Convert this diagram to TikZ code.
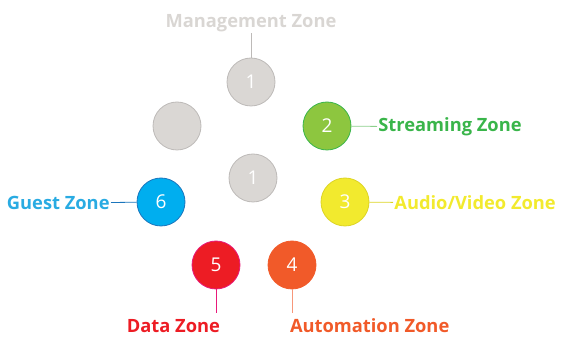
\documentclass[tikz,border=0pt]{standalone}
\usepackage{fontspec}
\setmainfont{Open Sans}
\usetikzlibrary{positioning}

\definecolor{zgray}{HTML}{DAD7D4}
\definecolor{zgrayline}{HTML}{BDBAB8}
\definecolor{zgraytext}{HTML}{D9D6D3}
\definecolor{zgreen}{HTML}{8DC63F}
\definecolor{zgreendark}{HTML}{39B54A}
\definecolor{zgreenline}{HTML}{8CD08C}
\definecolor{zyellow}{HTML}{F2EA2E}
\definecolor{zyellowline}{HTML}{DCD424}
\definecolor{zblue}{HTML}{00AEEF}
\definecolor{zbluedark}{HTML}{1B75BC}
\definecolor{zbluetext}{HTML}{29ABE2}
\definecolor{zred}{HTML}{ED1C24}
\definecolor{zpink}{HTML}{E8197A}
\definecolor{zorange}{HTML}{F15A29}
\definecolor{zorangeline}{HTML}{F7977A}

\begin{document}
\begin{tikzpicture}[x=1pt,y=-1pt,thick,
  zone node/.style={circle,minimum size=48pt,inner sep=0pt,line width=0.8pt,
    text=white,font=\fontsize{19}{19}\selectfont},
  zone label/.style={inner sep=1pt,font=\bfseries\fontsize{18.3}{20}\selectfont}]

  \useasboundingbox (0,0) rectangle (563,339);

  \node[zone node,fill=zgray,draw=zgrayline] (m1) at (251,82) {1};
  \node[zone node,fill=zgray,draw=zgrayline] (g0) at (177,126) {};
  \node[zone node,fill=zgreen,draw=zgreendark] (z2) at (327,126) {2};
  \node[zone node,fill=zgray,draw=zgrayline] (c1) at (253,178) {1};
  \node[zone node,fill=zblue,draw=zbluedark] (z6) at (161,202) {6};
  \node[zone node,fill=zyellow,draw=zyellowline] (z3) at (345,202) {3};
  \node[zone node,fill=zred,draw=zpink] (z5) at (216,265) {5};
  \node[zone node,fill=zorange,draw=zorange] (z4) at (292,265) {4};

  \node[zone label,text=zgraytext,anchor=south] (lmgmt) at (251,33) {Management Zone};
  \node[zone label,text=zgreendark,anchor=west] (lstream) at (377,127) {Streaming Zone};
  \node[zone label,text=zyellow,anchor=west] (laudio) at (393,203) {Audio/Video Zone};
  \node[zone label,text=zbluetext,anchor=east] (lguest) at (111,203) {Guest Zone};
  \node[zone label,text=zred,outer sep=5pt,anchor=north east] (ldata) at (226,313) {Data Zone};
  \node[zone label,text=zorange,outer sep=5pt,anchor=north west] (lauto) at (284,313) {Automation Zone};

  \path[line width=0.8pt]
    (m1.north) edge[zgrayline] (lmgmt)
    (z2) edge[zgreenline] (lstream)
    (z3) edge[zyellowline] (laudio)
    (z6) edge[zbluedark] (lguest)
    (z5.south) edge[zpink] (z5.south |- ldata.north)
    (z4.south) edge[zorangeline] (z4.south |- lauto.north)
    ;
\end{tikzpicture}
\end{document}
